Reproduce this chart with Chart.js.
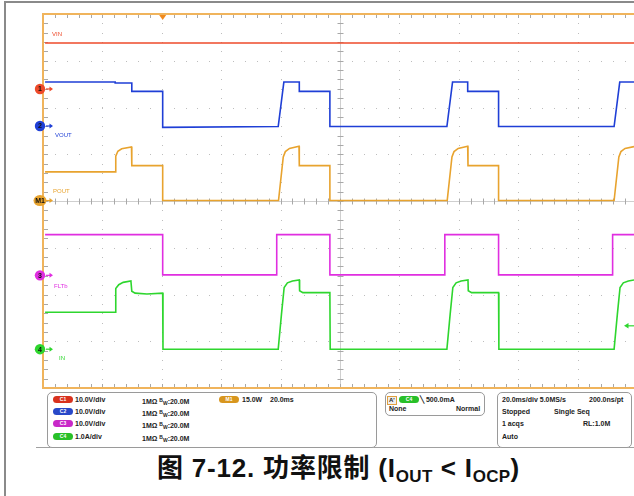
<!DOCTYPE html>
<html>
<head>
<meta charset="utf-8">
<script src="https://cdn.jsdelivr.net/npm/chart.js@4/dist/chart.umd.min.js"></script>
<style>
  body { margin: 0; background: #fff; overflow: hidden; }
  #wrap { position: relative; width: 634px; height: 496px; font-family: "Liberation Sans", Arial, sans-serif; }
  #c { position: absolute; left: 0; top: 0; }
  .frame { position: absolute; background: #8a8a8a; }
  .box { position: absolute; border: 1px solid #9a9a9a; border-radius: 5px; background: #fff; }
  .t { position: absolute; font-size: 7px; font-weight: bold; color: #222; white-space: nowrap; line-height: 8px; }
  .pill { position: absolute; width: 20px; height: 7px; border-radius: 4px; font-size: 5px; line-height: 7px; text-align: center; color: #fff; font-weight: bold; }
  .bw { font-size: 5px; vertical-align: 2px; }
  .bw i { font-style: normal; vertical-align: -3px; }
  #cap { position: absolute; left: 157px; top: 453px; font-size: 26px; font-weight: bold; color: #111; letter-spacing: 0.8px;
         font-family: "Liberation Sans", Arial, "Noto Sans CJK SC", sans-serif; white-space: nowrap; line-height: 30px; }
  #cap sub { font-size: 17px; vertical-align: -5px; line-height: 0; letter-spacing: 0.3px; }
</style>
</head>
<body>
<div id="wrap">
  <canvas id="c" width="634" height="392"></canvas>

  <div class="frame" style="left:4px;top:1px;width:630px;height:2px"></div>
  <div class="frame" style="left:4px;top:1px;width:2px;height:495px"></div>
  <div class="frame" style="left:36px;top:447px;width:598px;height:1px;background:#a0a0a0"></div>

  <div class="box" style="left:47px;top:392px;width:328px;height:54px"></div>
  <div class="box" style="left:385px;top:392px;width:98px;height:22px"></div>
  <div class="box" style="left:497px;top:392px;width:133px;height:54px"></div>

  <div class="pill" style="left:53px;top:396px;background:#d8321e">C1</div>
  <div class="t" style="left:75px;top:396px">10.0V/div</div>
  <div class="t" style="left:142px;top:396px">1MΩ <span class="bw">B<i>W</i></span>:20.0M</div>
  <div class="pill" style="left:53px;top:408px;background:#2848c8">C2</div>
  <div class="t" style="left:75px;top:408px">10.0V/div</div>
  <div class="t" style="left:142px;top:408px">1MΩ <span class="bw">B<i>W</i></span>:20.0M</div>
  <div class="pill" style="left:53px;top:420px;background:#c828c8">C3</div>
  <div class="t" style="left:75px;top:420px">10.0V/div</div>
  <div class="t" style="left:142px;top:420px">1MΩ <span class="bw">B<i>W</i></span>:20.0M</div>
  <div class="pill" style="left:53px;top:433px;background:#28c028">C4</div>
  <div class="t" style="left:75px;top:433px">1.0A/div</div>
  <div class="t" style="left:142px;top:433px">1MΩ <span class="bw">B<i>W</i></span>:20.0M</div>
  <div class="pill" style="left:219px;top:396px;background:#d8961e">M1</div>
  <div class="t" style="left:242px;top:396px">15.0W</div>
  <div class="t" style="left:270px;top:396px">20.0ms</div>

  <div class="t" style="left:387px;top:396px;border:1px solid #e0a040;background:#eee;font-size:6px;line-height:7px;padding:0 1px">A'</div>
  <div class="pill" style="left:399px;top:396px;background:#28c028">C4</div>
  <div class="t" style="left:420px;top:396px">╲ 500.0mA</div>
  <div class="t" style="left:389px;top:405px">None</div>
  <div class="t" style="left:456px;top:405px">Normal</div>

  <div class="t" style="left:502px;top:396px">20.0ms/div 5.0MS/s</div>
  <div class="t" style="left:589px;top:396px">200.0ns/pt</div>
  <div class="t" style="left:502px;top:408px">Stopped</div>
  <div class="t" style="left:554px;top:408px">Single Seq</div>
  <div class="t" style="left:502px;top:420px">1 acqs</div>
  <div class="t" style="left:583px;top:420px">RL:1.0M</div>
  <div class="t" style="left:502px;top:433px">Auto</div>

  <div id="cap">图 7-12. 功率限制 (I<sub>OUT</sub> &lt; I<sub>OCP</sub>)</div>
</div>

<script>
// time axis in ms (20 ms/div), values in channel units
var VIN_T = [0.7, 199];
var VIN_V = [9.84, 9.84];

var VOUT_T = [0.7, 24.3, 24.3, 29.9, 29.9, 40.3, 40.3, 79.2, 81.1, 86.3, 86.3, 96.6, 96.6, 136.0, 137.9, 143.0, 143.0, 153.4, 153.4, 192.3, 194.2, 199];
var VOUT_V = [9.4, 9.4, 9.2, 9.2, 7.4, 7.4, -0.3, -0.1, 9.4, 9.4, 7.4, 7.4, -0.1, -0.1, 9.4, 9.4, 7.4, 7.4, -0.1, -0.1, 9.4, 9.4];

var POUT_T = [0.7, 24.3, 24.5, 25.2, 26.5, 29.8, 29.9, 40.3, 40.3, 79.3, 80.9, 81.6, 83.0, 86.2, 86.3, 96.6, 96.6, 136.1, 137.7, 138.4, 139.8, 143.0, 143.1, 153.4, 153.4, 192.3, 193.9, 194.6, 196.0, 199];
var POUT_V = [9.2, 9.2, 14.2, 15.8, 16.6, 17.2, 11.2, 11.2, 0, 0, 14.0, 15.7, 16.7, 17.4, 11.2, 11.2, 0, 0, 14.0, 15.7, 16.7, 17.4, 11.2, 11.2, 0, 0, 14.0, 15.7, 16.7, 17.3];

var FLTB_T = [0.7, 40.3, 40.3, 78.7, 78.7, 96.6, 96.6, 135.3, 135.3, 153.4, 153.4, 191.8, 191.8, 199];
var FLTB_V = [8.7, 8.7, 0.1, 0.1, 8.7, 8.7, 0.1, 0.1, 8.7, 8.7, 0.1, 0.1, 8.7, 8.7];

var IN_T = [0.7, 24.3, 24.5, 25.5, 27.0, 29.6, 29.9, 31.0, 35.0, 40.3, 40.4, 79.2, 80.3, 81.2, 82.3, 84.0, 86.3, 86.4, 87.5, 96.6, 96.7, 136.0, 137.1, 138.0, 139.1, 140.8, 143.1, 143.2, 144.3, 153.4, 153.5, 192.3, 193.4, 194.3, 195.4, 197.1, 199];
var IN_V = [0.79, 0.79, 1.30, 1.38, 1.43, 1.46, 1.24, 1.20, 1.18, 1.20, 0, 0, 0.75, 1.32, 1.42, 1.46, 1.48, 1.25, 1.21, 1.21, 0, 0, 0.75, 1.32, 1.42, 1.46, 1.48, 1.25, 1.21, 1.21, 0, 0, 0.75, 1.32, 1.42, 1.46, 1.48];

// scope channel setup: label, units per div, ground offset (div)
var CH_NAMES = ['VIN', 'VOUT', 'POUT', 'FLTb', 'IN'];
var CH_TAGS = ['1', '2', 'M1', '3', '4'];
var CH_SCALE = [10, 10, 15, 10, 1];
var CH_OFFSET = [2.396, 1.604, 0.01, -1.59, -3.17];
var CH_COLORS = ['#ee4a2a', '#1f3fd6', '#e8a32e', '#e02ee0', '#2ed62e'];
var TRIG_LEVEL = 0.5; // A on C4

function toDiv(ts, vs, ch) {
  return ts.map(function (t, i) {
    return { x: t, y: CH_OFFSET[ch] + vs[i] / CH_SCALE[ch] };
  });
}

var series = [[VIN_T, VIN_V], [VOUT_T, VOUT_V], [POUT_T, POUT_V], [FLTB_T, FLTB_V], [IN_T, IN_V]];
var datasets = series.map(function (s, i) {
  return {
    label: CH_NAMES[i],
    data: toDiv(s[0], s[1], i),
    borderColor: CH_COLORS[i],
    borderWidth: 1.6,
    pointRadius: 0,
    tension: 0
  };
});

var scopePlugin = {
  id: 'scope',
  beforeDatasetsDraw: function (chart) {
    var ctx = chart.ctx, a = chart.chartArea;
    var xs = chart.scales.x, ys = chart.scales.y;
    var dx = xs.getPixelForValue(20) - xs.getPixelForValue(0);
    var dy = ys.getPixelForValue(0) - ys.getPixelForValue(1);
    ctx.save();
    // dotted graticule
    ctx.fillStyle = '#bdbdbd';
    for (var i = 1; i < 10; i++) {
      var gx = Math.round(xs.getPixelForValue(i * 20));
      if (i === 5) continue;
      for (var y = a.top; y <= a.bottom; y += dy / 5) ctx.fillRect(gx, Math.round(y), 1, 1);
    }
    for (var j = -3; j <= 3; j++) {
      if (j === 0) continue;
      var gy = Math.round(ys.getPixelForValue(j));
      for (var x = a.left; x <= a.right; x += dx / 5) ctx.fillRect(Math.round(x), gy, 1, 1);
    }
    // center cross
    var cx = Math.round(xs.getPixelForValue(100)) + 0.5;
    var cy = Math.round(ys.getPixelForValue(0)) + 0.5;
    ctx.strokeStyle = '#cfcfcf';
    ctx.lineWidth = 1;
    ctx.beginPath();
    ctx.moveTo(cx, a.top); ctx.lineTo(cx, a.bottom);
    ctx.moveTo(a.left, cy); ctx.lineTo(a.right, cy);
    ctx.stroke();
    // minor ticks
    ctx.strokeStyle = '#a8a8a8';
    ctx.beginPath();
    for (var k = 0; k <= 40; k++) {
      var ty = Math.round(a.top + k * dy / 5) + 0.5;
      ctx.moveTo(a.left, ty); ctx.lineTo(a.left + 5, ty);
      ctx.moveTo(cx - 3, ty); ctx.lineTo(cx + 3, ty);
    }
    for (var m = 0; m <= 50; m++) {
      var tx = Math.round(a.left + m * dx / 5) + 0.5;
      if (tx > a.right) break;
      ctx.moveTo(tx, a.top); ctx.lineTo(tx, a.top + 4);
      ctx.moveTo(tx, a.bottom); ctx.lineTo(tx, a.bottom - 4);
      ctx.moveTo(tx, cy - 3); ctx.lineTo(tx, cy + 3);
    }
    ctx.stroke();
    ctx.restore();
  },
  afterDatasetsDraw: function (chart) {
    var ctx = chart.ctx, a = chart.chartArea;
    var xs = chart.scales.x, ys = chart.scales.y;
    ctx.save();
    // orange frame
    ctx.strokeStyle = '#f0b45c';
    ctx.lineWidth = 2;
    ctx.beginPath();
    ctx.moveTo(a.right + 2, a.top); ctx.lineTo(a.left, a.top);
    ctx.lineTo(a.left, a.bottom); ctx.lineTo(a.right + 2, a.bottom);
    ctx.stroke();

    // trigger position marker
    var trX = xs.getPixelForValue(40.3);
    ctx.fillStyle = '#f08a1e';
    ctx.beginPath();
    ctx.moveTo(trX - 3.5, a.top + 1); ctx.lineTo(trX + 3.5, a.top + 1); ctx.lineTo(trX, a.top + 6);
    ctx.closePath(); ctx.fill();

    // channel ground markers + names
    var nameX = [52, 55, 53, 54, 59];
    var nameY = [34, 135, 191, 286, 358];
    ctx.textBaseline = 'middle';
    for (var i = 0; i < CH_NAMES.length; i++) {
      var my = ys.getPixelForValue(CH_OFFSET[i]);
      var col = CH_COLORS[i];
      ctx.fillStyle = col;
      ctx.beginPath();
      if (CH_TAGS[i] === 'M1') ctx.ellipse(40, my, 6.5, 5.5, 0, 0, Math.PI * 2);
      else ctx.arc(40, my, 5.2, 0, Math.PI * 2);
      ctx.fill();
      ctx.strokeStyle = col;
      ctx.lineWidth = 1.2;
      ctx.beginPath();
      ctx.moveTo(46, my); ctx.lineTo(51, my);
      ctx.stroke();
      ctx.beginPath();
      ctx.moveTo(53, my); ctx.lineTo(49.5, my - 2.5); ctx.lineTo(49.5, my + 2.5);
      ctx.closePath(); ctx.fill();
      ctx.fillStyle = '#111';
      ctx.font = 'bold 7px "Liberation Sans", Arial';
      ctx.textAlign = 'center';
      ctx.fillText(CH_TAGS[i], 40, my + 0.5);
      ctx.fillStyle = col;
      ctx.font = '6px "Liberation Sans", Arial';
      ctx.textAlign = 'left';
      ctx.fillText(CH_NAMES[i], nameX[i], nameY[i]);
    }

    // trigger level arrow on C4
    var ly = ys.getPixelForValue(CH_OFFSET[4] + TRIG_LEVEL / CH_SCALE[4]);
    ctx.strokeStyle = CH_COLORS[4];
    ctx.fillStyle = CH_COLORS[4];
    ctx.lineWidth = 1.2;
    ctx.beginPath();
    ctx.moveTo(a.right, ly); ctx.lineTo(628, ly);
    ctx.stroke();
    ctx.beginPath();
    ctx.moveTo(624, ly); ctx.lineTo(628.5, ly - 2.8); ctx.lineTo(628.5, ly + 2.8);
    ctx.closePath(); ctx.fill();
    ctx.restore();
  }
};

new Chart(document.getElementById('c').getContext('2d'), {
  type: 'line',
  data: { datasets: datasets },
  options: {
    responsive: false,
    animation: false,
    parsing: true,
    layout: { padding: { left: 43, top: 14, right: 0, bottom: 4 } },
    scales: {
      x: { type: 'linear', min: 0, max: 199, display: false },
      y: { type: 'linear', min: -4, max: 4, display: false }
    },
    plugins: { legend: { display: false }, tooltip: { enabled: false } }
  },
  plugins: [scopePlugin]
});
</script>
</body>
</html>
